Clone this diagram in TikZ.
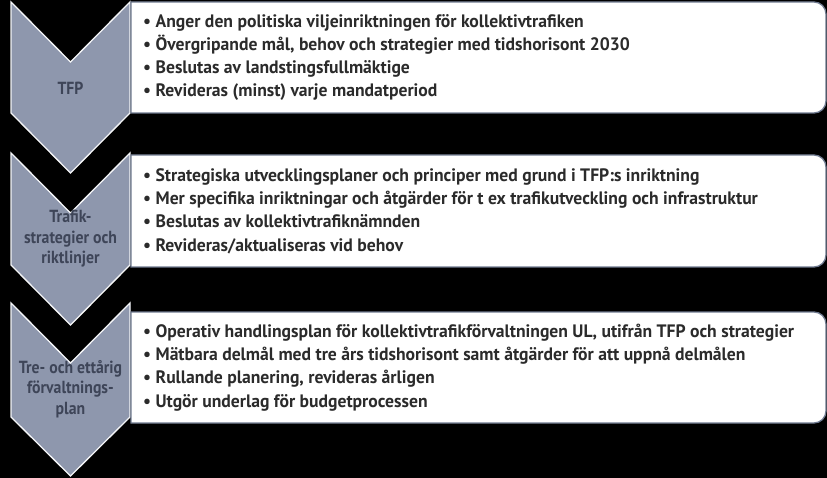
\documentclass[tikz,border=0pt]{standalone}
\usepackage{fontspec}
\newfontfamily\dinfont{PT Sans}[FakeStretch=0.98]
\newfontfamily\dinnarrow{PT Sans}[FakeStretch=0.9]
\definecolor{chevfill}{HTML}{8E97AD}
\definecolor{chevtext}{HTML}{3E4558}
\definecolor{boxline}{HTML}{6F7A90}
\definecolor{bodytext}{HTML}{2B2B2B}
\tikzset{
  chevron/.style={fill=chevfill, draw=white!90!chevfill, line width=1.3pt, line join=miter},
  listbox/.style={fill=white, draw=boxline, line width=1.3pt},
  chevlabel/.style={font=\dinnarrow\bfseries\fontsize{17.5}{20.5}\selectfont, text=chevtext, align=center, inner sep=0pt},
  bullets/.style={font=\dinfont\bfseries\fontsize{18}{23.3}\selectfont, text=bodytext, align=left, anchor=west, inner sep=0pt}
}
\begin{document}
\begin{tikzpicture}[x=1pt,y=-1pt]
\useasboundingbox[fill=black] (0,0) rectangle (827,478);
% chevrons
\draw[chevron] (11,2) -- (70.5,62) -- (130,2) -- (130,113) -- (70.5,173) -- (11,113) -- cycle;
\draw[chevron] (11,153) -- (70.5,213) -- (130,153) -- (130,265) -- (70.5,325) -- (11,265) -- cycle;
\draw[chevron] (11,303) -- (70.5,363) -- (130,303) -- (130,417) -- (70.5,476) -- (11,417) -- cycle;
% boxes
\draw[listbox] (131,2) {[rounded corners=12pt] -- (826,2) -- (826,113)} -- (131,113) -- cycle;
\draw[listbox] (131,155) {[rounded corners=12pt] -- (826,155) -- (826,267)} -- (131,267) -- cycle;
\draw[listbox] (131,312) {[rounded corners=12pt] -- (826,312) -- (826,423)} -- (131,423) -- cycle;
% chevron labels
\node[chevlabel] (l1) at (70.5,88) {TFP};
\node[chevlabel] (l2) at (70.5,239) {Trafik-\\strategier och\\riktlinjer};
\node[chevlabel] (l3) at (70.5,389) {Tre- och ettårig\\förvaltnings-\\plan};
% bullet texts
\node[bullets] (t1) at (143,57.5) {\textbullet\ Anger den politiska viljeinriktningen för kollektivtrafiken\\
\textbullet\ Övergripande mål, behov och strategier med tidshorisont 2030\\
\textbullet\ Beslutas av landstingsfullmäktige\\
\textbullet\ Revideras (minst) varje mandatperiod};
\node[bullets] (t2) at (143,211) {\textbullet\ Strategiska utvecklingsplaner och principer med grund i TFP:s inriktning\\
\textbullet\ Mer specifika inriktningar och åtgärder för t ex trafikutveckling och infrastruktur\\
\textbullet\ Beslutas av kollektivtrafiknämnden\\
\textbullet\ Revideras/aktualiseras vid behov};
\node[bullets] (t3) at (143,367.5) {\textbullet\ Operativ handlingsplan för kollektivtrafikförvaltningen UL, utifrån TFP och strategier\\
\textbullet\ Mätbara delmål med tre års tidshorisont samt åtgärder för att uppnå delmålen\\
\textbullet\ Rullande planering, revideras årligen\\
\textbullet\ Utgör underlag för budgetprocessen};
\end{tikzpicture}
\end{document}
